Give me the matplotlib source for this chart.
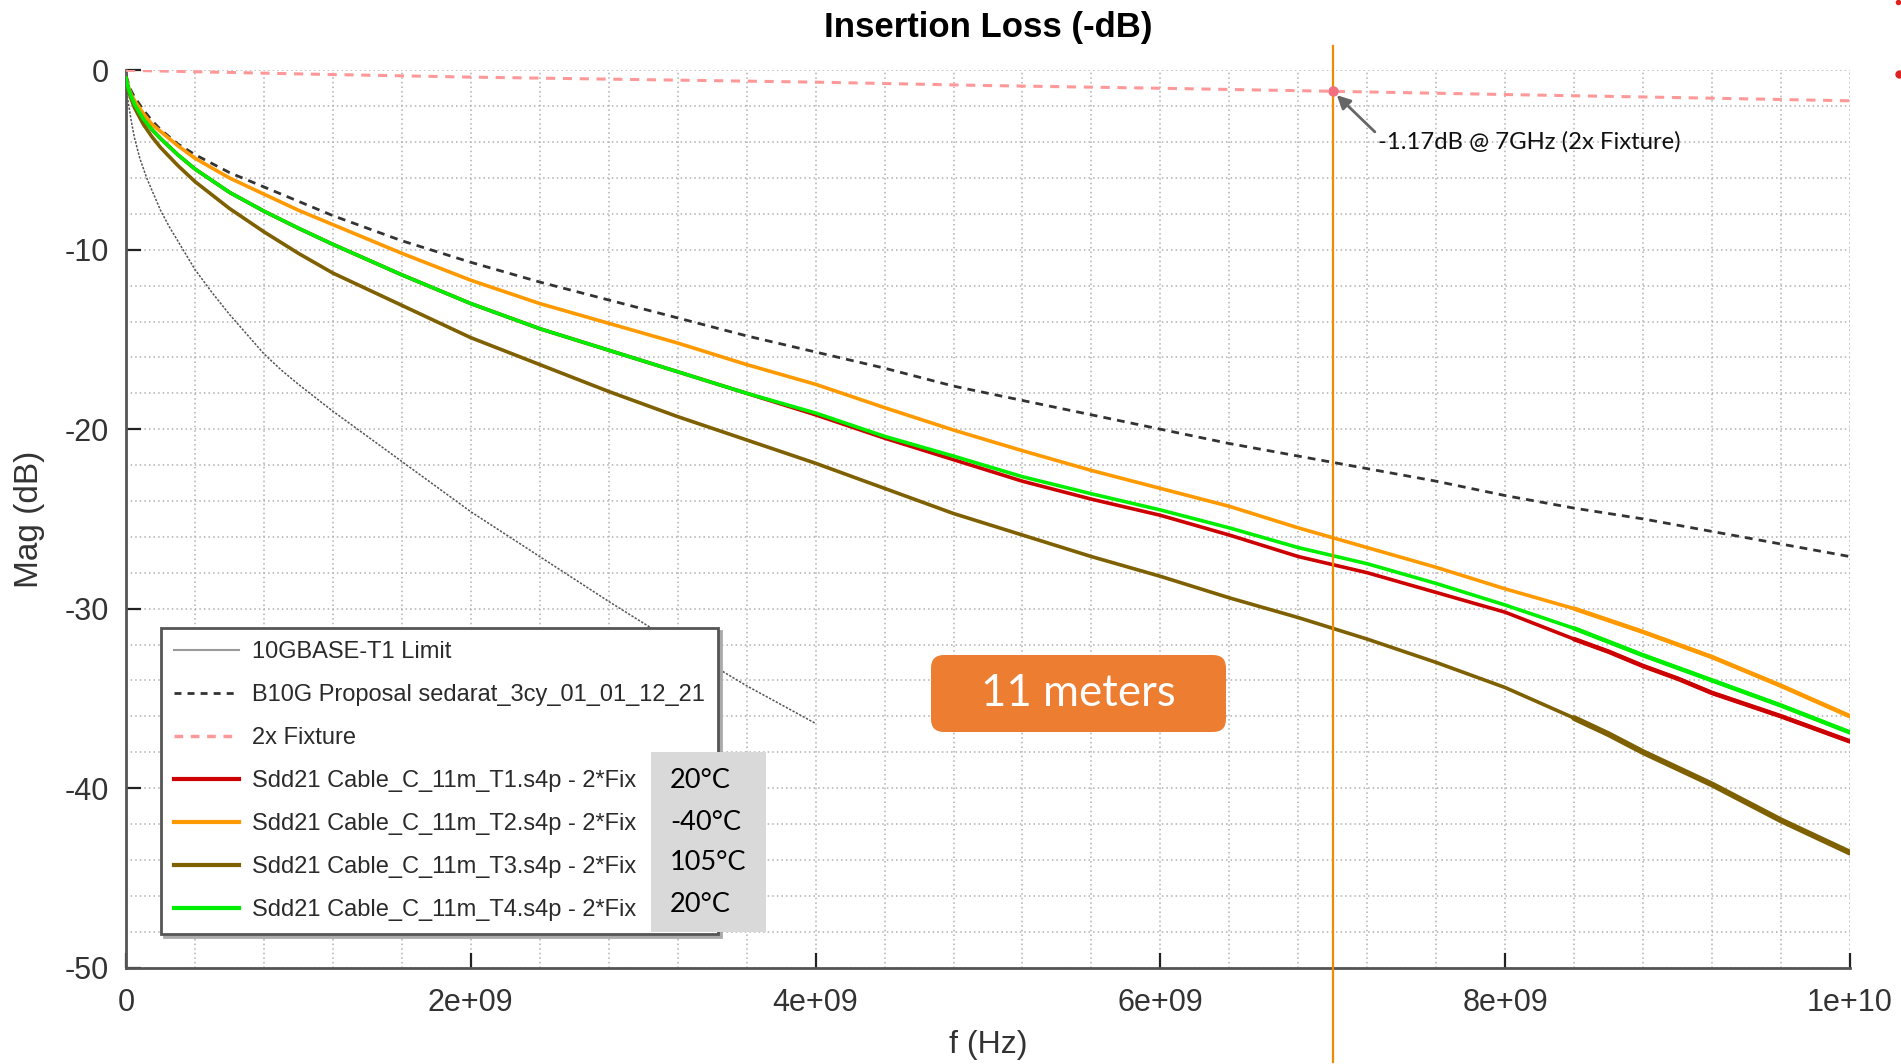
"""Insertion loss of an 11 m cable at several temperatures."""

import matplotlib

matplotlib.use("Agg")
import matplotlib.pyplot as plt
from matplotlib.lines import Line2D
from matplotlib.patches import FancyBboxPatch, Rectangle
import numpy as np

# frequency grid (GHz) shared by the measured traces
freq_ghz = [0, 0.01, 0.02, 0.03, 0.05, 0.1, 0.15, 0.2, 0.3, 0.4, 0.6, 0.8, 1.0, 1.2, 1.6, 2.0, 2.4, 2.8,
            3.2, 3.6, 4.0, 4.4, 4.8, 5.2, 5.6, 6.0, 6.4, 6.8, 7.2, 7.6, 8.0, 8.4, 8.6, 8.8, 9.0, 9.2,
            9.4, 9.6, 9.8, 10.0]

b10g_proposal = [-0.3, -0.6, -0.9, -1.15, -1.5, -2.2, -2.8, -3.3, -4.1, -4.7, -5.7, -6.5, -7.3, -8.1, -9.5,
                 -10.7, -11.8, -12.8, -13.8, -14.8, -15.7, -16.6, -17.6, -18.4, -19.2, -20.0, -20.8, -21.5,
                 -22.2, -22.9, -23.7, -24.4, -24.7, -25.0, -25.35, -25.7, -26.05, -26.4, -26.75, -27.1]
sdd21_t1 = [-0.4, -0.85, -1.2, -1.45, -1.9, -2.7, -3.3, -3.8, -4.7, -5.5, -6.8, -7.85, -8.8, -9.7, -11.4,
            -13.0, -14.4, -15.6, -16.8, -18.0, -19.2, -20.5, -21.7, -22.9, -23.9, -24.8, -25.9, -27.1,
            -28.0, -29.1, -30.2, -31.7, -32.4, -33.2, -33.9, -34.7, -35.35, -36.0, -36.7, -37.4]
sdd21_t2 = [-0.4, -0.8, -1.1, -1.35, -1.7, -2.4, -3.0, -3.4, -4.2, -4.9, -6.0, -6.9, -7.8, -8.6, -10.2,
            -11.7, -13.0, -14.1, -15.2, -16.4, -17.5, -18.8, -20.05, -21.2, -22.3, -23.3, -24.3, -25.5,
            -26.6, -27.7, -28.9, -30.0, -30.65, -31.3, -32.0, -32.7, -33.5, -34.3, -35.15, -36.0]
sdd21_t3 = [-0.4, -0.9, -1.3, -1.6, -2.1, -3.0, -3.7, -4.3, -5.3, -6.2, -7.7, -9.0, -10.2, -11.3, -13.1,
            -14.9, -16.4, -17.9, -19.3, -20.6, -21.9, -23.3, -24.7, -25.9, -27.1, -28.2, -29.4, -30.5,
            -31.7, -33.0, -34.4, -36.1, -37.0, -38.0, -38.9, -39.8, -40.8, -41.8, -42.7, -43.6]
sdd21_t4 = [-0.4, -0.85, -1.2, -1.45, -1.9, -2.7, -3.3, -3.8, -4.7, -5.5, -6.8, -7.85, -8.8, -9.7, -11.4,
            -13.0, -14.4, -15.6, -16.8, -18.0, -19.1, -20.4, -21.5, -22.65, -23.6, -24.5, -25.5, -26.6,
            -27.5, -28.6, -29.8, -31.1, -31.85, -32.6, -33.3, -34.0, -34.7, -35.4, -36.15, -36.9]

# 10GBASE-T1 limit, only defined up to 4 GHz
limit_ghz = [0, 0.01, 0.02, 0.03, 0.05, 0.08, 0.12, 0.16, 0.2, 0.25, 0.3, 0.35, 0.4, 0.5, 0.6, 0.7, 0.8,
             0.9, 1.0, 1.2, 1.4, 1.6, 1.8, 2.0, 2.4, 2.8, 3.2, 3.6, 4.0]
limit_db = [-0.6, -1.6, -2.2, -2.8, -3.8, -4.9, -6.0, -6.9, -7.8, -8.7, -9.5, -10.3, -11.1, -12.4, -13.6,
            -14.7, -15.8, -16.7, -17.5, -19.0, -20.4, -21.8, -23.2, -24.6, -27.1, -29.6, -32.0, -34.3, -36.4]

# 2x fixture loss
fixture_ghz = [0, 1, 2, 3, 4, 5, 6, 7, 8, 9, 10]
fixture_db = [0, -0.2, -0.38, -0.52, -0.66, -0.85, -1.0, -1.17, -1.35, -1.52, -1.7]

marker_freq = 7e9
marker_db = -1.17

labels = ["10GBASE-T1 Limit", "B10G Proposal sedarat_3cy_01_01_12_21", "2x Fixture",
          "Sdd21 Cable_C_11m_T1.s4p - 2*Fix", "Sdd21 Cable_C_11m_T2.s4p - 2*Fix",
          "Sdd21 Cable_C_11m_T3.s4p - 2*Fix", "Sdd21 Cable_C_11m_T4.s4p - 2*Fix"]
temperatures = ["20°C", "-40°C", "105°C", "20°C"]
xtick_values = [0, 2e9, 4e9, 6e9, 8e9, 1e10]
xtick_labels = ["0", "2e+09", "4e+09", "6e+09", "8e+09", "1e+10"]
ytick_values = [0, -10, -20, -30, -40, -50]

RED, ORANGE, BROWN, GREEN = "#cc0000", "#ff9900", "#7f6000", "#00ee00"

plt.rcParams["font.family"] = ["Liberation Sans", "DejaVu Sans"]
plt.rcParams["axes.unicode_minus"] = False

W, H = 1901, 1064
fig = plt.figure(figsize=(W / 100, H / 100), dpi=100)
ax = fig.add_axes([126 / W, 1 - 967.5 / H, 1724 / W, 897.2 / H])

f = np.array(freq_ghz) * 1e9
tail = f >= 8.4e9

ax.plot(np.array(limit_ghz) * 1e9, limit_db, color="#555555", lw=1.1, ls=(0, (1.5, 1)), zorder=3)
ax.plot(f, b10g_proposal, color="#333333", lw=2.0, ls=(0, (2.8, 2.2)), zorder=3)
ax.plot(np.array(fixture_ghz) * 1e9, fixture_db, color="#ff9999", lw=2.2, ls=(0, (3, 2.5)), zorder=3)
for vals, col, tail_lw in [(sdd21_t1, RED, 3.3), (sdd21_t2, ORANGE, 3.2),
                           (sdd21_t3, BROWN, 4.2), (sdd21_t4, GREEN, 3.2)]:
    vals = np.array(vals)
    ax.plot(f, vals, color=col, lw=2.6, zorder=4, solid_capstyle="round", solid_joinstyle="round")
    ax.plot(f[tail], vals[tail], color=col, lw=tail_lw, zorder=4, solid_capstyle="round",
            solid_joinstyle="round")

# 7 GHz marker line and fixture annotation
ax.axvline(marker_freq, ymin=-0.105, ymax=1.027, clip_on=False, color="#f08c00", lw=1.6, zorder=6)
ax.plot(marker_freq, marker_db, "o", color="#f07080", ms=6.5, zorder=7)
ax.annotate("-1.17dB @ 7GHz (2x Fixture)", xy=(marker_freq, marker_db), xytext=(7.26e9, -4.0),
            ha="left", va="center", fontsize=17.2, family=["Lato", "DejaVu Sans"], color="#111111",
            arrowprops=dict(arrowstyle="-|>", color="#666666", lw=2, shrinkA=0, shrinkB=4,
                            mutation_scale=20, relpos=(0, 0.85)), zorder=7)

ax.set_xlim(0, 1e10)
ax.set_ylim(-50, 0)
ax.set_xticks(xtick_values)
ax.set_xticklabels(xtick_labels)
ax.set_yticks(ytick_values)
ax.set_xticks(np.arange(0, 1e10 + 1, 4e8), minor=True)
ax.set_yticks(np.arange(-50, 1, 2), minor=True)
ax.grid(which="both", ls=(0, (1, 2)), color="#b0b0b0", lw=1.1)
ax.tick_params(which="major", direction="in", length=11, width=1.6, color="#222222",
               labelsize=22, labelcolor="#333333")
ax.tick_params(axis="x", pad=15)
ax.tick_params(axis="y", pad=12)
ax.tick_params(which="minor", length=0)
for side in ("top", "right"):
    ax.spines[side].set_visible(False)
for side in ("left", "bottom"):
    ax.spines[side].set_color("#555555")
    ax.spines[side].set_linewidth(2)

ax.set_title("Insertion Loss (-dB)", fontsize=25, fontweight="bold", pad=24)
ax.set_xlabel("f (Hz)", fontsize=23, color="#333333")
ax.xaxis.set_label_coords(0.5, -0.0864)
ax.xaxis.label.set_va("center")
ax.set_ylabel("Mag (dB)", fontsize=24, color="#333333")
ax.yaxis.set_label_coords(-0.0557, 0.5)
ax.yaxis.label.set_va("center")

handles = [
    Line2D([], [], color="#999999", lw=1.5),
    Line2D([], [], color="#333333", lw=2.0, ls=(0, (2.5, 2.2))),
    Line2D([], [], color="#ff9999", lw=2.5, ls=(0, (2.5, 2.2))),
    Line2D([], [], color=RED, lw=3),
    Line2D([], [], color=ORANGE, lw=3),
    Line2D([], [], color=BROWN, lw=3),
    Line2D([], [], color=GREEN, lw=3),
]
leg = ax.legend(handles, labels, loc="upper left", bbox_to_anchor=(161 / W, 1 - 628 / H),
                bbox_transform=fig.transFigure, borderaxespad=0, fontsize=17,
                handlelength=2.75, handletextpad=0.55, labelspacing=0.89, borderpad=0.55,
                fancybox=False, framealpha=1, edgecolor="#555555",
                shadow={"color": "#aaaaaa", "alpha": 1})
leg.get_frame().set_linewidth(2)
for txt in leg.get_texts():
    txt.set_color("#2a2a2a")

# temperature tags next to the legend
inch = fig.dpi_scale_trans
fig.add_artist(Rectangle((6.51, 1.32), 1.15, 1.80, transform=inch, fc="#d9d9d9", ec="none"))
for i, t in enumerate(temperatures):
    fig.text(6.70, (H - (781 + 41 * i)) / 100, t, transform=inch, ha="left", va="center",
             fontsize=19.5, family=["Lato", "DejaVu Sans"], color="black")

# "11 meters" call-out
fig.add_artist(FancyBboxPatch((9.31, 3.32), 2.95, 0.77, transform=inch,
                              boxstyle="round,pad=0,rounding_size=0.13", fc="#ed7d31", ec="none"))
fig.text(10.785, 3.705, "11 meters", transform=inch, ha="center", va="center",
         fontsize=31.5, family=["Lato", "DejaVu Sans"], color="white")

# stray red marks at the right edge of the slide
fig.add_artist(Line2D([18.99], [9.90], transform=inch, marker="o", color="#dd2222", ms=5, ls="none"))
fig.add_artist(Line2D([18.98], [10.62], transform=inch, marker="o", color="#dd2222", ms=3, ls="none"))

fig.savefig("out.png", dpi=100)
plt.close(fig)
